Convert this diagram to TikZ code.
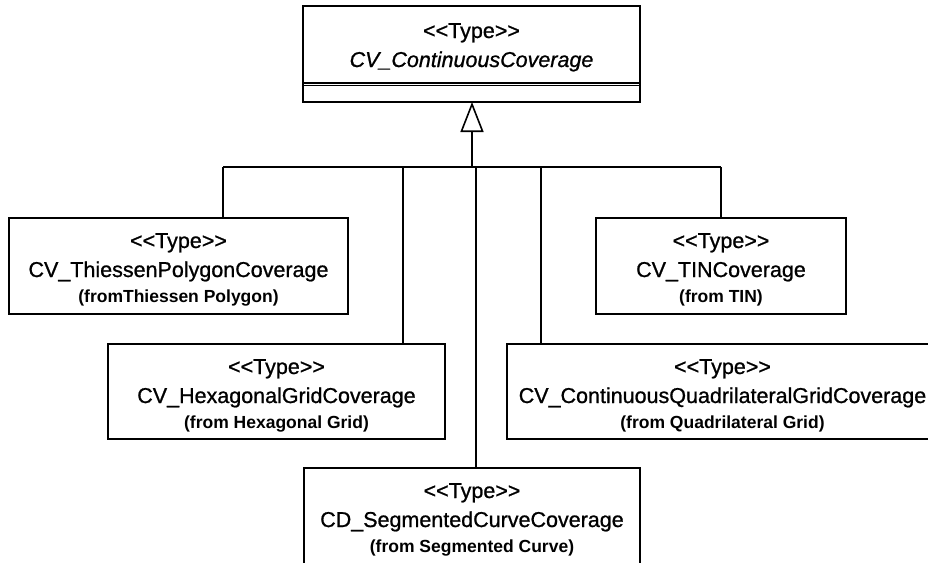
\documentclass[tikz,border=0pt]{standalone}
\usepackage{fontspec}
\setmainfont{Liberation Sans}
\newfontfamily\umlfont{Liberation Sans}[FakeBold=0.9]
\usetikzlibrary{arrows.meta}

% coordinates are given in points, y growing downwards
\tikzset{
  classbox/.style={draw=black, line width=1.5pt, fill=white, rectangle,
    inner sep=0pt, outer sep=0pt, anchor=north west},
  stereo/.style={anchor=base, inner sep=0pt, font=\umlfont\fontsize{21.5}{24}\selectfont},
  cname/.style={anchor=base, inner sep=0pt, font=\umlfont\fontsize{21.5}{24}\selectfont},
  origin/.style={anchor=base, inner sep=0pt, font=\fontsize{17.5}{20}\selectfont\bfseries},
  link/.style={draw=black, line width=1.6pt},
  compartment/.style={draw=black, line width=1.1pt},
}

% <<Type>> without the guillemet ligature
\newcommand\typestereo{<\kern0pt<Type>\kern0pt>}

% #1 name, #2 left, #3 top, #4 width, #5 height, #6 class name, #7 package note
\newcommand\classnode[7]{%
  \node[classbox, minimum width=#4pt, minimum height=#5pt] (#1) at (#2,#3) {};
  \node[stereo] (#1-st) at ([yshift=-30pt]#1.north) {\typestereo};
  \node[cname]  (#1-nm) at ([yshift=-59pt]#1.north) {#6};
  \node[origin] (#1-or) at ([yshift=-84pt]#1.north) {#7};
}

\begin{document}
\begin{tikzpicture}[x=1pt, y=-1pt]
  \useasboundingbox (0,0) rectangle (928,562);
  \clip (0,0) rectangle (928,562);

  % abstract supertype
  \node[classbox, minimum width=337pt, minimum height=96pt] (top) at (303,6) {};
  \node[stereo] (top-st) at ([yshift=-32pt]top.north) {\typestereo};
  \node[cname]  (top-nm) at ([yshift=-61pt]top.north) {\itshape CV\_ContinuousCoverage};
  \draw[compartment] (top.south west) ++(0,-19) -- ++(337,0);
  \draw[compartment] (top.south west) ++(0,-16.9) -- ++(337,0);

  % subtypes
  \classnode{thiessen}{9}{218}{339}{96}{CV\_ThiessenPolygonCoverage}{(fromThiessen Polygon)}
  \classnode{tin}{596}{218}{250}{96}{CV\_TINCoverage}{(from TIN)}
  \classnode{hexagonal}{108}{344}{337}{95}{CV\_HexagonalGridCoverage}{(from Hexagonal Grid)}
  \classnode{quad}{507}{344}{431}{95}{CV\_ContinuousQuadrilateralGridCoverage}{(from Quadrilateral Grid)}
  \classnode{segmented}{304}{468}{336}{120}{CD\_SegmentedCurveCoverage}{(from Segmented Curve)}

  % generalization tree
  \coordinate (j)  at (472,167);
  \coordinate (t1) at (223,167);
  \coordinate (t2) at (403,167);
  \coordinate (t3) at (476,167);
  \coordinate (t4) at (541,167);
  \coordinate (t5) at (tin.north |- j);

  \draw[link, -{Triangle[open, length=30pt, width=23pt]}] (j) -- (j |- top.south);
  \draw[link] (t1) -- (t5);
  \draw[link] (t1) -- (t1 |- thiessen.north);
  \draw[link] (t2) -- (t2 |- hexagonal.north);
  \draw[link] (t3) -- (t3 |- segmented.north);
  \draw[link] (t4) -- (t4 |- quad.north);
  \draw[link] (t5) -- (tin.north);
\end{tikzpicture}
\end{document}
